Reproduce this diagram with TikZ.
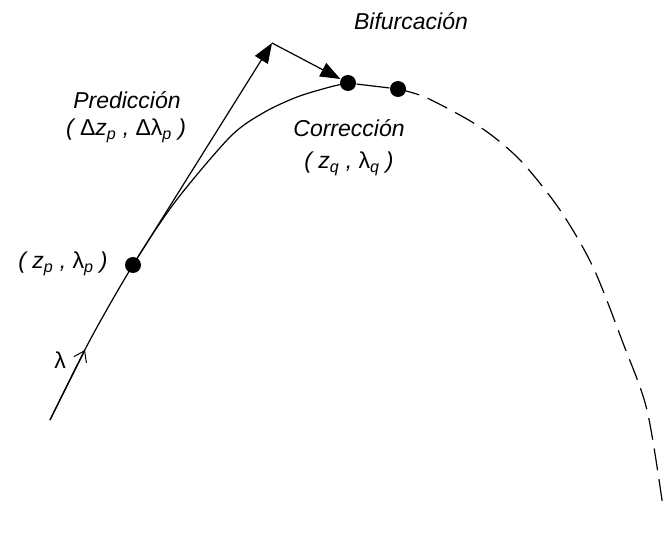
\documentclass[tikz,border=0pt]{standalone}
\usepackage{fontspec}
\setmainfont{Liberation Sans}
\usetikzlibrary{arrows.meta}
\newcommand{\gr}[1]{{\upshape #1}}
\begin{document}
\begin{tikzpicture}[x=1pt,y=-1pt, line width=1.2pt,
  dot/.style={circle,fill=black,inner sep=0pt,minimum size=16pt},
  lbl/.style={font=\fontsize{23}{26}\selectfont\itshape, inner sep=0pt},
  tri/.style={-{Triangle[length=20pt,width=15pt]}},
  barb/.style={-{Straight Barb[length=10pt,width=14pt,line width=1pt]}},
  dashcurve/.style={dash pattern=on 22pt off 9pt}]
\useasboundingbox (0,0) rectangle (664,537);
% points on the curve
\node[dot] (p) at (133,265) {};
\node[dot] (q) at (348,83) {};
\node[dot] (b) at (398,89) {};
\coordinate (tip) at (272,43);
\coordinate (s) at (50,420);
\coordinate (m) at (85,350);
% solid part of the curve
\draw plot[smooth] coordinates {(50,420) (90,340) (133,265) (175,202) (230,137) (263,113) (297,97) (330,87) (348,83)};
\draw[barb] (s) -- (m);
\draw (q) -- (b);
% dashed continuation
\draw[dashcurve] plot[smooth] coordinates {(398,89) (427,98) (480,127) (520,160) (560,210) (593,267) (623,343) (647,410) (663,507)};
% predictor and corrector
\draw[tri] (p) -- (tip);
\draw[tri] (tip) -- (q);
% labels
\node[lbl] (lbif) at (411,21) {Bifurcación};
\node[lbl] (lpred) at (127,100) {Predicción};
\node[lbl] (lpredv) at (126,131) {( \gr{Δ}z\textsubscript{p} , \gr{Δλ}\textsubscript{p} )};
\node[lbl] (lcorr) at (349,128) {Corrección};
\node[lbl] (lcorrv) at (349,164) {( z\textsubscript{q} , \gr{λ}\textsubscript{q} )};
\node[lbl] (lp) at (63,264) {( z\textsubscript{p} , \gr{λ}\textsubscript{p} )};
\node[lbl] (llam) at (60,360) {\gr{λ}};
\end{tikzpicture}
\end{document}
